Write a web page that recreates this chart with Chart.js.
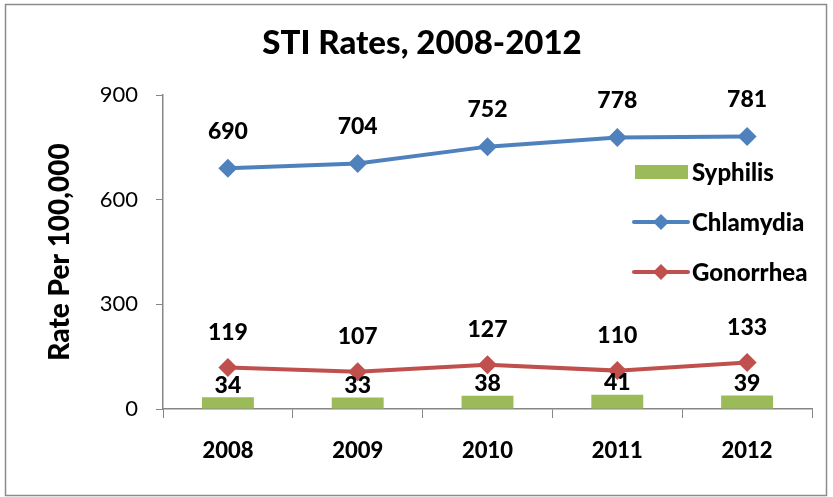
<!DOCTYPE html>
<html>
<head>
<meta charset="utf-8">
<script src="https://cdn.jsdelivr.net/npm/chart.js@4.4.0/dist/chart.umd.min.js"></script>
<style>
  html, body { margin: 0; padding: 0; background: #fff; }
  #wrap { position: relative; width: 833px; height: 497px; }
</style>
</head>
<body>
<div id="wrap"><canvas id="c" width="833" height="497"></canvas></div>
<script>
const categories = ['2008', '2009', '2010', '2011', '2012'];
const syphilis = [34, 33, 38, 41, 39];
const chlamydia = [690, 704, 752, 778, 781];
const gonorrhea = [119, 107, 127, 110, 133];
const yTicks = [0, 300, 600, 900];
const chartTitle = 'STI Rates, 2008-2012';
const yTitle = 'Rate Per 100,000';

const GREEN = '#9BBB59', BLUE = '#4F81BD', RED = '#C0504D';
const FONT = 'Lato, "DejaVu Sans", sans-serif';
const HEAVY = '900';

const borderPlugin = {
  id: 'outerBorder',
  beforeDraw(chart) {
    const ctx = chart.ctx;
    ctx.save();
    ctx.strokeStyle = '#8c8c8c';
    ctx.lineWidth = 1.5;
    ctx.strokeRect(5.5, 4.5, 821, 491);
    ctx.restore();
  }
};

const titlePlugin = {
  id: 'chartTitleText',
  afterDraw(chart) {
    const ctx = chart.ctx;
    ctx.save();
    ctx.font = HEAVY + ' 33px ' + FONT;
    ctx.fillStyle = '#000';
    ctx.textAlign = 'center';
    ctx.textBaseline = 'middle';
    ctx.fillText(chartTitle, 422, 43);
    ctx.restore();
  }
};

const labelPlugin = {
  id: 'valueLabels',
  afterDatasetsDraw(chart) {
    const ctx = chart.ctx;
    ctx.save();
    ctx.font = HEAVY + ' 23px ' + FONT;
    ctx.fillStyle = '#000';
    ctx.textAlign = 'center';
    ctx.textBaseline = 'middle';
    chart.data.datasets.forEach((ds, i) => {
      const meta = chart.getDatasetMeta(i);
      const off = ds.labelOffset;
      meta.data.forEach((el, j) => {
        ctx.fillText(String(ds.data[j]), el.x, el.y - off);
      });
    });
    ctx.restore();
  }
};

const legendPlugin = {
  id: 'customLegend',
  afterDraw(chart) {
    const ctx = chart.ctx;
    ctx.save();
    ctx.font = HEAVY + ' 24px ' + FONT;
    ctx.textAlign = 'left';
    ctx.textBaseline = 'middle';
    ctx.fillStyle = '#000';
    const x0 = 634, x1 = 688, tx = 692;
    const rows = [172, 222, 272];
    chart.data.datasets.forEach((ds, i) => {
      const y = rows[ds.legendRow];
      if (ds.type === 'bar') {
        ctx.fillStyle = ds.backgroundColor;
        ctx.fillRect(x0 + 1, y - 7, x1 - x0 - 1, 14);
      } else {
        ctx.strokeStyle = ds.borderColor;
        ctx.lineWidth = 4;
        ctx.lineCap = 'round';
        ctx.beginPath();
        ctx.moveTo(x0, y);
        ctx.lineTo(x1, y);
        ctx.stroke();
        ctx.fillStyle = ds.borderColor;
        const r = 8;
        const cx = (x0 + x1) / 2;
        ctx.beginPath();
        ctx.moveTo(cx, y - r);
        ctx.lineTo(cx + r, y);
        ctx.lineTo(cx, y + r);
        ctx.lineTo(cx - r, y);
        ctx.closePath();
        ctx.fill();
      }
      ctx.fillStyle = '#000';
      ctx.fillText(ds.label, tx, y + 1);
    });
    ctx.restore();
  }
};

new Chart(document.getElementById('c'), {
  data: {
    labels: categories,
    datasets: [
      {
        type: 'bar', label: 'Syphilis', data: syphilis,
        backgroundColor: GREEN, borderWidth: 0,
        barPercentage: 0.4, categoryPercentage: 1.0,
        order: 3, labelOffset: 12, legendRow: 0
      },
      {
        type: 'line', label: 'Chlamydia', data: chlamydia,
        borderColor: BLUE, backgroundColor: BLUE, borderWidth: 4,
        pointStyle: 'rectRot', pointRadius: 9.5, pointBorderWidth: 0,
        pointBackgroundColor: BLUE, tension: 0,
        order: 1, labelOffset: 37, legendRow: 1
      },
      {
        type: 'line', label: 'Gonorrhea', data: gonorrhea,
        borderColor: RED, backgroundColor: RED, borderWidth: 4,
        pointStyle: 'rectRot', pointRadius: 9.5, pointBorderWidth: 0,
        pointBackgroundColor: RED, tension: 0,
        order: 2, labelOffset: 35, legendRow: 2
      }
    ]
  },
  options: {
    responsive: false,
    animation: false,
    layout: { padding: { left: 0, right: 21, top: 95, bottom: 0 } },
    plugins: {
      legend: { display: false },
      tooltip: { enabled: false },
      title: { display: false }
    },
    scales: {
      x: {
        type: 'category',
        offset: true,
        grid: { display: true, drawOnChartArea: false, drawTicks: true, tickLength: 9, color: '#868686', offset: true },
        border: { display: true, color: '#868686', width: 1.5 },
        ticks: { color: '#000', font: { family: FONT, size: 22, weight: HEAVY }, padding: 20, maxRotation: 0 },
        afterFit(s) { s.height = 88; }
      },
      y: {
        type: 'linear',
        min: 0, max: 900,
        afterBuildTicks(s) { s.ticks = yTicks.map(v => ({ value: v })); },
        grid: { display: true, drawOnChartArea: false, drawTicks: true, tickLength: 7, color: '#868686' },
        border: { display: true, color: '#868686', width: 1.5 },
        ticks: { color: '#000', font: { family: FONT, size: 22 }, padding: 18 },
        title: {
          display: true, text: yTitle, color: '#000',
          font: { family: FONT, size: 28, weight: HEAVY, lineHeight: 1.2 },
          padding: { top: 43, bottom: 0 }
        },
        afterFit(s) { s.width = 163; }
      }
    }
  },
  plugins: [borderPlugin, titlePlugin, labelPlugin, legendPlugin]
});
</script>
</body>
</html>
